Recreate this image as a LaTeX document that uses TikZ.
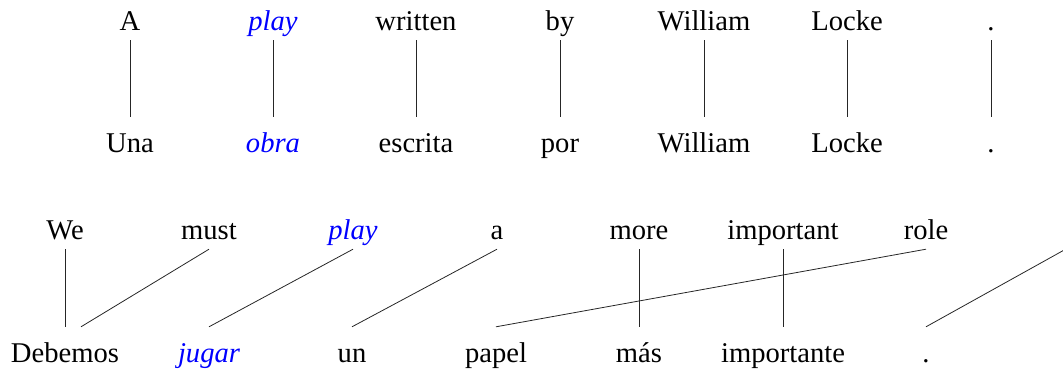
\documentclass[tikz,border=0pt]{standalone}
\usepackage{fontspec}
\setmainfont{Liberation Serif}
\begin{document}
\begin{tikzpicture}[x=1pt,y=1pt,
  wd/.style={font=\fontsize{28.6}{34}\selectfont, inner xsep=0pt, inner ysep=10pt, text height=25pt, text depth=0pt, anchor=base},
  hl/.style={wd, text=blue, font=\fontsize{28.6}{34}\selectfont\itshape},
  lk/.style={line width=0.8pt, draw=black!85}]
\useasboundingbox (0,0) rectangle (1063,-370);
% group 1: top row
\node[wd] (a1) at (130,-30) {A};
\node[hl] (a2) at (273,-30) {play};
\node[wd] (a3) at (416,-30) {written};
\node[wd] (a4) at (560,-30) {by};
\node[wd] (a5) at (704,-30) {William};
\node[wd] (a6) at (847,-30) {Locke};
\node[wd] (a7) at (991,-30) {.};
% group 1: bottom row
\node[wd] (b1) at (130,-152) {Una};
\node[hl] (b2) at (273,-152) {obra};
\node[wd] (b3) at (416,-152) {escrita};
\node[wd] (b4) at (560,-152) {por};
\node[wd] (b5) at (704,-152) {William};
\node[wd] (b6) at (847,-152) {Locke};
\node[wd] (b7) at (991,-152) {.};
\foreach \i in {1,...,7} { \draw[lk] (a\i.south) -- (b\i.north); }
% group 2: top row
\node[wd] (c1) at (65,-239) {We};
\node[wd] (c2) at (209,-239) {must};
\node[hl] (c3) at (353,-239) {play};
\node[wd] (c4) at (497,-239) {a};
\node[wd] (c5) at (639,-239) {more};
\node[wd] (c6) at (783,-239) {important};
\node[wd] (c7) at (926,-239) {role};
\coordinate (c8) at (1066,-249);
% group 2: bottom row
\node[wd] (d1) at (65,-362) {Debemos};
\node[hl] (d2) at (209,-362) {jugar};
\node[wd] (d3) at (352,-362) {un};
\node[wd] (d4) at (496,-362) {papel};
\node[wd] (d5) at (639,-362) {más};
\node[wd] (d6) at (783,-362) {importante};
\node[wd] (d7) at (926,-362) {.};
\begin{scope}
\clip (0,0) rectangle (1063,-370);
\draw[lk] (c1.south) -- (d1.north);
\draw[lk] (c2.south) -- ([xshift=16pt]d1.north);
\draw[lk] (c3.south) -- (d2.north);
\draw[lk] (c4.south) -- (d3.north);
\draw[lk] (c5.south) -- (d5.north);
\draw[lk] (c6.south) -- (d6.north);
\draw[lk] (c7.south) -- (d4.north);
\draw[lk] (c8) -- (d7.north);
\end{scope}
\end{tikzpicture}
\end{document}
